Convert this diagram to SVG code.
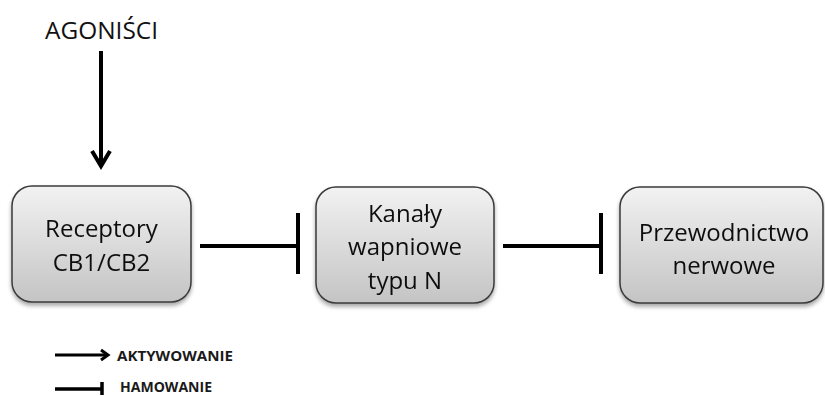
<svg xmlns="http://www.w3.org/2000/svg" width="825" height="396" viewBox="0 0 825 396">
<defs>
<linearGradient id="g" x1="0" y1="0" x2="0" y2="1">
<stop offset="0" stop-color="#f2f2f2"/>
<stop offset="1" stop-color="#c4c4c4"/>
</linearGradient>
<filter id="sh" x="-10%" y="-10%" width="120%" height="130%">
<feGaussianBlur in="SourceAlpha" stdDeviation="2"/>
<feOffset dx="0" dy="3" result="b"/>
<feComponentTransfer><feFuncA type="linear" slope="0.35"/></feComponentTransfer>
<feMerge><feMergeNode/><feMergeNode in="SourceGraphic"/></feMerge>
</filter>
</defs>
<style>
.box{fill:url(#g);stroke:#3a3a3a;stroke-width:1.5}
.t{font-family:"Open Sans",sans-serif;font-size:24px;fill:#111;text-anchor:middle}
.ln{stroke:#000;stroke-width:4;fill:none}
.lg{font-family:"Open Sans",sans-serif;font-size:14px;font-weight:bold;fill:#1a1a1a}
</style>
<rect width="825" height="396" fill="#fff"/>
<text x="45" y="39" font-family="'Open Sans',sans-serif" font-size="24" fill="#111" textLength="113" lengthAdjust="spacingAndGlyphs">AGONIŚCI</text>
<g id="n1" filter="url(#sh)">
<rect class="box" x="12" y="186" width="179" height="116" rx="20"/>
<text class="t" x="101.5" y="237">Receptory</text>
<text class="t" x="101.5" y="271">CB1/CB2</text>
</g>
<g id="n2" filter="url(#sh)">
<rect class="box" x="316" y="187" width="178" height="116" rx="20"/>
<text class="t" x="405" y="222">Kanały</text>
<text class="t" x="405" y="255">wapniowe</text>
<text class="t" x="405" y="289">typu N</text>
</g>
<g id="n3" filter="url(#sh)">
<rect class="box" x="620" y="187" width="203" height="116" rx="20"/>
<text class="t" x="724" y="241">Przewodnictwo</text>
<text class="t" x="724" y="274">nerwowe</text>
</g>
<g id="connectors">
<path class="ln" d="M101 51 V166"/>
<path class="ln" d="M92 151 L101 166 L110 151" stroke-linejoin="miter"/>
<path class="ln" d="M200 246 H298 M298 213 V274"/>
<path class="ln" d="M503 246 H601 M601 213 V274"/>
</g>
<g id="legend">
<path d="M55 355 H108" stroke="#000" stroke-width="3"/>
<path d="M101 350 L108 355 L101 360" stroke="#000" stroke-width="3" fill="none"/>
<text class="lg" x="117" y="360.5" textLength="116" lengthAdjust="spacingAndGlyphs">AKTYWOWANIE</text>
<path d="M55 389 H102 M102 382 V395" stroke="#000" stroke-width="3.5"/>
<text class="lg" x="120" y="392" textLength="92" lengthAdjust="spacingAndGlyphs">HAMOWANIE</text>
</g>
</svg>
